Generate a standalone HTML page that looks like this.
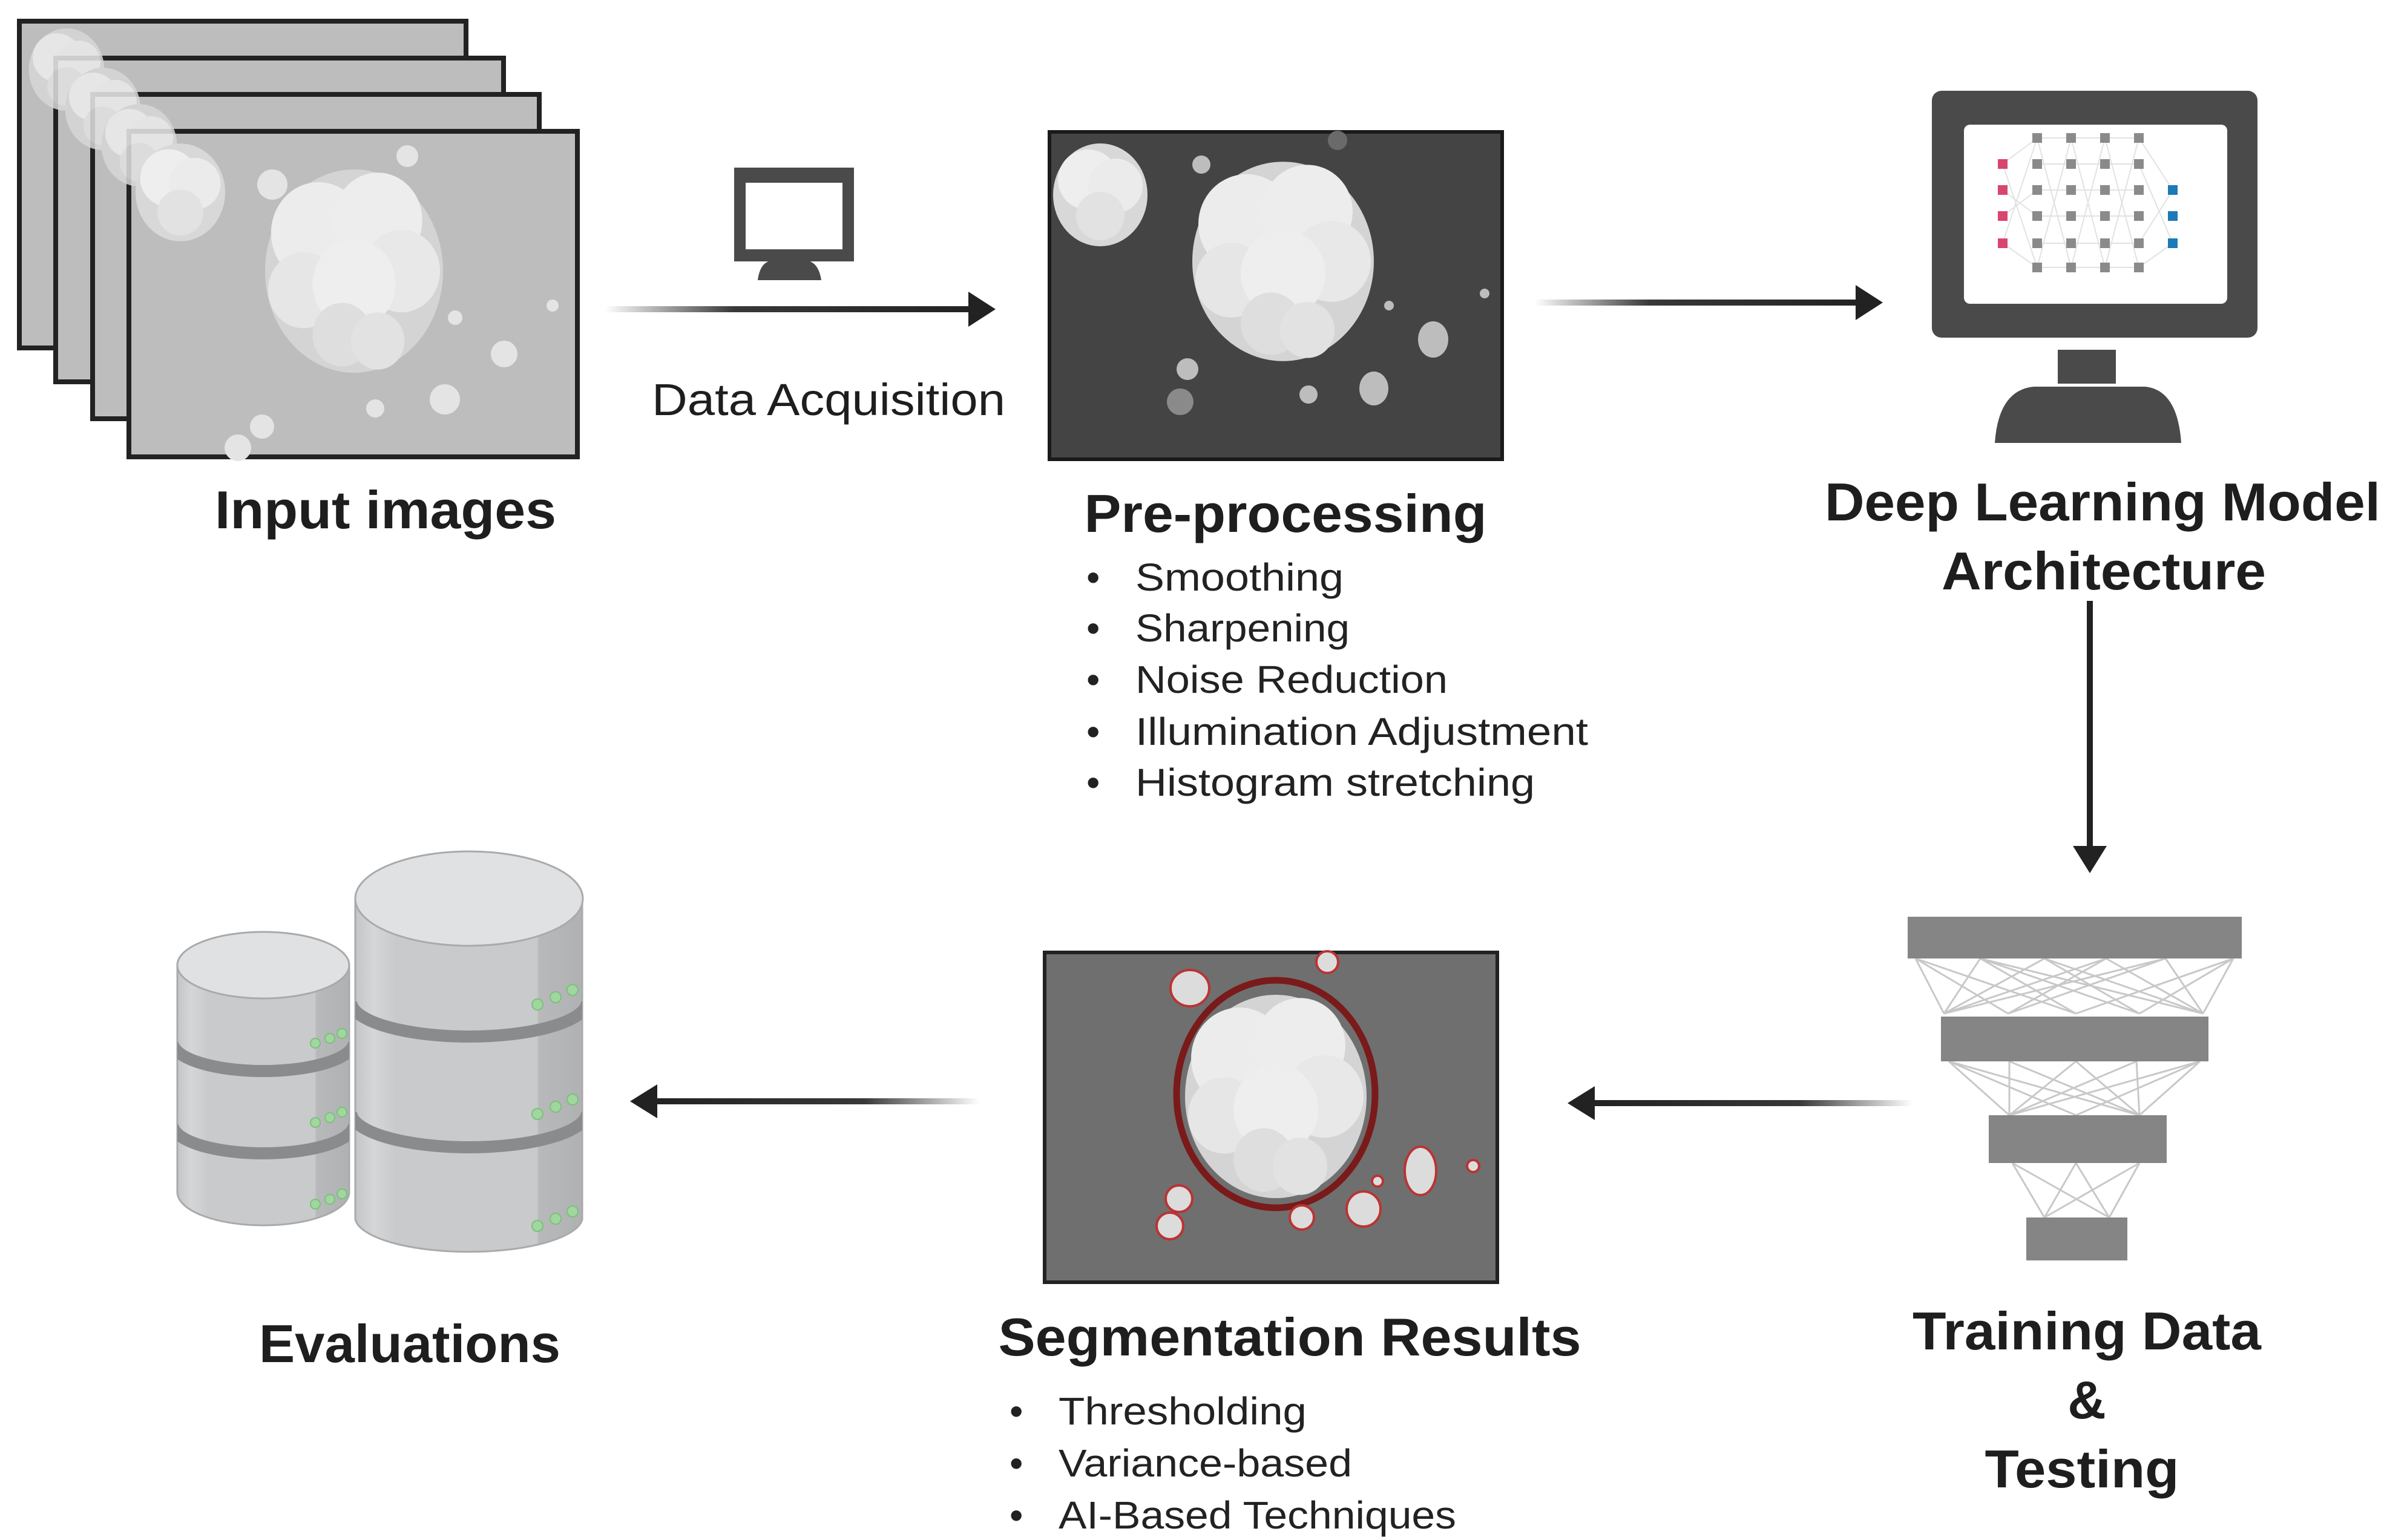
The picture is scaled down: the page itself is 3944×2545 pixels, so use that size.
<!DOCTYPE html>
<html><head><meta charset="utf-8"><style>
html,body{margin:0;padding:0;background:#fff;}
svg{display:block;}
text{font-family:"Liberation Sans",Arial,sans-serif;fill:#1e1e1e;}
.t{font-weight:bold;font-size:88px;}
.b{font-size:64px;fill:#222;}
</style></head><body>
<svg width="3944" height="2545" viewBox="0 0 3944 2545" xmlns="http://www.w3.org/2000/svg">
<defs>
<linearGradient id="gr" x1="0" x2="1" y1="0" y2="0"><stop offset="0" stop-color="#222" stop-opacity="0"/><stop offset="0.35" stop-color="#222" stop-opacity="0.9"/><stop offset="1" stop-color="#222"/></linearGradient>
<linearGradient id="gl" x1="1" x2="0" y1="0" y2="0"><stop offset="0" stop-color="#222" stop-opacity="0"/><stop offset="0.35" stop-color="#222" stop-opacity="0.9"/><stop offset="1" stop-color="#222"/></linearGradient>
<linearGradient id="cyl" x1="0" x2="1" y1="0" y2="0"><stop offset="0" stop-color="#c4c5c7"/><stop offset="0.08" stop-color="#d5d6d8"/><stop offset="0.18" stop-color="#c9cacc"/><stop offset="0.8" stop-color="#c9cacc"/><stop offset="0.81" stop-color="#b8b9bb"/><stop offset="1" stop-color="#b0b1b3"/></linearGradient>
<clipPath id="cl1"><path d="M293,1595 L293,1970 A142,55 0 0 0 577,1970 L577,1595 Z"/></clipPath>
<clipPath id="cl2"><path d="M587,1485 L587,2015 A188,58 0 0 0 962,2015 L962,1485 Z"/></clipPath>
<g id="bigcell">
<ellipse cx="0" cy="0" rx="150" ry="160" fill="#d4d4d4"/>
<circle cx="-60" cy="-60" r="80" fill="#ececec"/><circle cx="40" cy="-80" r="75" fill="#ededed"/>
<circle cx="80" cy="0" r="65" fill="#e8e8e8"/><circle cx="-85" cy="30" r="60" fill="#e6e6e6"/>
<circle cx="0" cy="20" r="70" fill="#eeeeee"/><circle cx="-20" cy="100" r="50" fill="#dedede"/>
<circle cx="40" cy="110" r="45" fill="#e2e2e2"/>
</g>
<g id="smcell">
<ellipse cx="0" cy="0" rx="78" ry="85" fill="#d8d8d8"/>
<circle cx="-20" cy="-25" r="50" fill="#eeeeee"/><circle cx="25" cy="-15" r="45" fill="#ebebeb"/><circle cx="0" cy="35" r="40" fill="#e2e2e2"/>
</g>
</defs>

<g stroke="#222" stroke-width="8" fill="#bdbdbd">
<rect x="32" y="35" width="738" height="540"/>
<rect x="92" y="96" width="740" height="535"/>
<rect x="153" y="156" width="738" height="536"/>
<rect x="213" y="217" width="741" height="538"/>
</g>
<g opacity="0.85"><use href="#smcell" transform="translate(110,115) scale(0.8)"/><use href="#smcell" transform="translate(170,180) scale(0.8)"/><use href="#smcell" transform="translate(230,240) scale(0.8)"/></g>
<use href="#smcell" transform="translate(298,318) scale(0.95)"/>
<use href="#bigcell" transform="translate(585,448) scale(0.98,1.05)"/>
<g fill="#e4e4e4"><circle cx="450" cy="305" r="25"/><circle cx="673" cy="258" r="18"/><circle cx="833" cy="585" r="22"/><circle cx="752" cy="525" r="12"/><circle cx="913" cy="505" r="10"/><circle cx="735" cy="660" r="25"/><circle cx="433" cy="705" r="20"/><circle cx="620" cy="675" r="15"/><circle cx="393" cy="740" r="22"/></g>

<rect x="999" y="506" width="610" height="10" fill="url(#gr)"/>
<polygon points="1600,482 1645,511 1600,540" fill="#222"/>
<rect x="1213" y="277" width="198" height="155" fill="#4a4a4a"/>
<rect x="1232" y="302" width="160" height="110" fill="#fff"/>
<rect x="1287" y="437" width="34" height="22" fill="#4a4a4a"/>
<path d="M1252,540 Q1256,507 1280,507 L1328,507 Q1352,507 1357,540 Z" transform="translate(0,-77)" fill="#4a4a4a"/>
<text x="1369" y="686" text-anchor="middle" font-size="74" textLength="584" lengthAdjust="spacingAndGlyphs">Data Acquisition</text>

<rect x="1734" y="218" width="748" height="541" fill="#444" stroke="#1a1a1a" stroke-width="6"/>
<use href="#smcell" transform="translate(1818,322)"/>
<use href="#bigcell" transform="translate(2120,432) scale(1,1.03)"/>
<g fill="#bdbdbd"><circle cx="1985" cy="272" r="15"/><circle cx="2210" cy="232" r="16" fill="#6a6a6a"/><ellipse cx="2368" cy="561" rx="25" ry="30"/><circle cx="2295" cy="505" r="8"/><circle cx="2453" cy="485" r="8"/><circle cx="1962" cy="610" r="18"/><circle cx="1950" cy="664" r="22" fill="#8a8a8a"/><circle cx="2162" cy="652" r="15"/><ellipse cx="2270" cy="642" rx="24" ry="28"/></g>
<text class="t" x="2124" y="879" text-anchor="middle" textLength="665" lengthAdjust="spacingAndGlyphs">Pre-processing</text>
<text class="b" x="1795" y="976">•</text><text class="b" x="1876" y="976" textLength="344" lengthAdjust="spacingAndGlyphs">Smoothing</text>
<text class="b" x="1795" y="1060">•</text><text class="b" x="1876" y="1060" textLength="354" lengthAdjust="spacingAndGlyphs">Sharpening</text>
<text class="b" x="1795" y="1145">•</text><text class="b" x="1876" y="1145" textLength="516" lengthAdjust="spacingAndGlyphs">Noise Reduction</text>
<text class="b" x="1795" y="1231">•</text><text class="b" x="1876" y="1231" textLength="748" lengthAdjust="spacingAndGlyphs">Illumination Adjustment</text>
<text class="b" x="1795" y="1315">•</text><text class="b" x="1876" y="1315" textLength="660" lengthAdjust="spacingAndGlyphs">Histogram stretching</text>

<rect x="2536" y="495" width="540" height="10" fill="url(#gr)"/>
<polygon points="3066,471 3111,500 3066,529" fill="#222"/>

<rect x="3192" y="150" width="538" height="408" rx="16" fill="#4a4a4a"/>
<rect x="3245" y="206" width="435" height="296" rx="10" fill="#fff"/>
<g stroke="#e2e2e2" stroke-width="2">
<path d="M3309,271 L3366,228 M3309,271 L3366,442 M3309,402 L3366,228 M3309,402 L3366,442 M3309,314 L3366,357 M3309,357 L3366,314 M3366,228 L3422,442 M3366,442 L3422,228 M3422,228 L3478,442 M3422,442 L3478,228 M3478,228 L3534,442 M3478,442 L3534,228 M3534,228 L3590,314 M3534,442 L3590,402 M3534,271 L3590,402 M3534,402 L3590,314 M3366,271 L3534,271 M3366,314 L3534,314 M3366,357 L3534,357 M3366,402 L3534,402 M3366,228 L3534,228 M3366,442 L3534,442"/>
</g>
<g fill="#8a8a8a">
<rect x="3358" y="220" width="16" height="16"/><rect x="3358" y="263" width="16" height="16"/><rect x="3358" y="306" width="16" height="16"/><rect x="3358" y="349" width="16" height="16"/><rect x="3358" y="394" width="16" height="16"/><rect x="3358" y="434" width="16" height="16"/>
<rect x="3414" y="220" width="16" height="16"/><rect x="3414" y="263" width="16" height="16"/><rect x="3414" y="306" width="16" height="16"/><rect x="3414" y="349" width="16" height="16"/><rect x="3414" y="394" width="16" height="16"/><rect x="3414" y="434" width="16" height="16"/>
<rect x="3470" y="220" width="16" height="16"/><rect x="3470" y="263" width="16" height="16"/><rect x="3470" y="306" width="16" height="16"/><rect x="3470" y="349" width="16" height="16"/><rect x="3470" y="394" width="16" height="16"/><rect x="3470" y="434" width="16" height="16"/>
<rect x="3526" y="220" width="16" height="16"/><rect x="3526" y="263" width="16" height="16"/><rect x="3526" y="306" width="16" height="16"/><rect x="3526" y="349" width="16" height="16"/><rect x="3526" y="394" width="16" height="16"/><rect x="3526" y="434" width="16" height="16"/>
</g>
<g fill="#d8466e"><rect x="3301" y="263" width="16" height="16"/><rect x="3301" y="306" width="16" height="16"/><rect x="3301" y="349" width="16" height="16"/><rect x="3301" y="394" width="16" height="16"/></g>
<g fill="#1b7ab8"><rect x="3582" y="306" width="16" height="16"/><rect x="3582" y="349" width="16" height="16"/><rect x="3582" y="394" width="16" height="16"/></g>
<rect x="3400" y="578" width="96" height="56" fill="#4a4a4a"/>
<path d="M3296,732 Q3302,645 3360,639 L3545,639 Q3598,645 3604,732 Z" fill="#4a4a4a"/>
<text class="t" x="3474" y="860" text-anchor="middle" textLength="918" lengthAdjust="spacingAndGlyphs">Deep Learning Model</text>
<text class="t" x="3476" y="974" text-anchor="middle" textLength="536" lengthAdjust="spacingAndGlyphs">Architecture</text>

<rect x="3448" y="993" width="10" height="410" fill="#222"/>
<polygon points="3425,1398 3453,1443 3481,1398" fill="#222"/>

<g stroke="#c8c8c8" stroke-width="3">
<path d="M3165,1584 L3212,1675 M3165,1584 L3318,1675 M3165,1584 L3430,1675 M3272,1584 L3212,1675 M3272,1584 L3430,1675 M3272,1584 L3535,1675 M3378,1584 L3212,1675 M3378,1584 L3535,1675 M3378,1584 L3640,1675 M3480,1584 L3318,1675 M3480,1584 L3640,1675 M3480,1584 L3212,1675 M3578,1584 L3318,1675 M3578,1584 L3640,1675 M3690,1584 L3430,1675 M3690,1584 L3640,1675 M3690,1584 L3535,1675 M3272,1584 L3640,1675 M3578,1584 L3212,1675"/>
<path d="M3220,1754 L3320,1843 M3220,1754 L3430,1843 M3320,1754 L3320,1843 M3320,1754 L3535,1843 M3430,1754 L3320,1843 M3430,1754 L3535,1843 M3530,1754 L3320,1843 M3530,1754 L3535,1843 M3635,1754 L3535,1843 M3635,1754 L3430,1843 M3220,1754 L3535,1843 M3635,1754 L3320,1843"/>
<path d="M3325,1922 L3378,2012 M3325,1922 L3485,2012 M3430,1922 L3378,2012 M3430,1922 L3485,2012 M3535,1922 L3378,2012 M3535,1922 L3485,2012"/>
</g>
<g fill="#858585">
<rect x="3152" y="1515" width="552" height="69"/>
<rect x="3207" y="1680" width="442" height="74"/>
<rect x="3286" y="1843" width="294" height="79"/>
<rect x="3348" y="2012" width="167" height="71"/>
</g>
<text class="t" x="3448" y="2230" text-anchor="middle" textLength="576" lengthAdjust="spacingAndGlyphs">Training Data</text>
<text class="t" x="3448" y="2344" text-anchor="middle">&amp;</text>
<text class="t" x="3440" y="2458" text-anchor="middle" textLength="321" lengthAdjust="spacingAndGlyphs">Testing</text>

<rect x="2625" y="1818" width="535" height="10" fill="url(#gl)"/>
<polygon points="2635,1795 2590,1823 2635,1851" fill="#222"/>

<rect x="1726" y="1574" width="748" height="545" fill="#6f6f6f" stroke="#222" stroke-width="6"/>
<use href="#bigcell" transform="translate(2108,1812) scale(1,1.05)"/>
<ellipse cx="2108" cy="1808" rx="164" ry="188" fill="none" stroke="#7a1a1a" stroke-width="11"/>
<g fill="#dcdcdc" stroke="#b33" stroke-width="4">
<ellipse cx="1966" cy="1633" rx="32" ry="30"/><circle cx="2193" cy="1590" r="18"/>
<circle cx="2276" cy="1952" r="9"/><circle cx="2434" cy="1927" r="10"/>
<ellipse cx="2347" cy="1935" rx="26" ry="40"/>
<circle cx="1948" cy="1981" r="22"/><circle cx="1933" cy="2026" r="22"/>
<circle cx="2151" cy="2012" r="20"/><ellipse cx="2253" cy="1998" rx="28" ry="29"/>
</g>
<text class="t" x="2131" y="2240" text-anchor="middle" textLength="963" lengthAdjust="spacingAndGlyphs">Segmentation Results</text>
<text class="b" x="1668" y="2354">•</text><text class="b" x="1749" y="2354" textLength="410" lengthAdjust="spacingAndGlyphs">Thresholding</text>
<text class="b" x="1668" y="2440">•</text><text class="b" x="1749" y="2440" textLength="485" lengthAdjust="spacingAndGlyphs">Variance-based</text>
<text class="b" x="1668" y="2526">•</text><text class="b" x="1749" y="2526" textLength="657" lengthAdjust="spacingAndGlyphs">AI-Based Techniques</text>

<rect x="1075" y="1815" width="543" height="10" fill="url(#gl)"/>
<polygon points="1086,1792 1041,1820 1086,1848" fill="#222"/>

<g stroke="#a9aaac" stroke-width="3">
<path d="M293,1595 L293,1970 A142,55 0 0 0 577,1970 L577,1595 Z" fill="url(#cyl)"/>
<path d="M587,1485 L587,2015 A188,58 0 0 0 962,2015 L962,1485 Z" fill="url(#cyl)"/>
</g>
<g fill="none" stroke="#8a8b8d" stroke-width="20">
<g clip-path="url(#cl1)">
<path d="M285,1722 A150,48 0 0 0 585,1722"/>
<path d="M285,1858 A150,48 0 0 0 585,1858"/>
</g>
<g clip-path="url(#cl2)">
<path d="M580,1655 A195,58 0 0 0 970,1655"/>
<path d="M580,1838 A195,58 0 0 0 970,1838"/>
</g>
</g>
<g stroke="#a9aaac" stroke-width="3" fill="#e0e1e3">
<ellipse cx="435" cy="1595" rx="142" ry="55"/>
<ellipse cx="775" cy="1485" rx="188" ry="78"/>
</g>
<g fill="#9fd79f" stroke="#7cc07c" stroke-width="2">
<circle cx="521" cy="1724" r="8"/><circle cx="545" cy="1716" r="8"/><circle cx="565" cy="1708" r="8"/>
<circle cx="521" cy="1855" r="8"/><circle cx="545" cy="1847" r="8"/><circle cx="565" cy="1838" r="8"/>
<circle cx="521" cy="1990" r="8"/><circle cx="545" cy="1982" r="8"/><circle cx="565" cy="1973" r="8"/>
<circle cx="888" cy="1660" r="9"/><circle cx="918" cy="1648" r="9"/><circle cx="946" cy="1636" r="9"/>
<circle cx="888" cy="1841" r="9"/><circle cx="918" cy="1829" r="9"/><circle cx="946" cy="1817" r="9"/>
<circle cx="888" cy="2026" r="9"/><circle cx="918" cy="2014" r="9"/><circle cx="946" cy="2002" r="9"/>
</g>
<text class="t" x="677" y="2251" text-anchor="middle" textLength="498" lengthAdjust="spacingAndGlyphs">Evaluations</text>
<text class="t" x="637" y="873" text-anchor="middle" textLength="564" lengthAdjust="spacingAndGlyphs">Input images</text>
</svg>
</body></html>
